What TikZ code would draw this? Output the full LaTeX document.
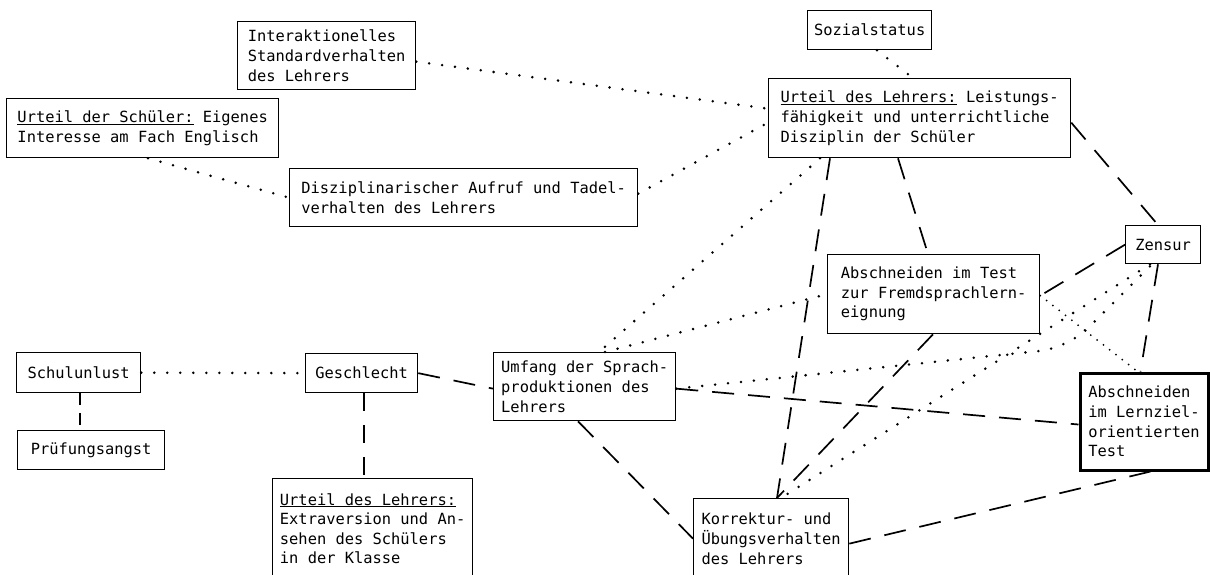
\documentclass[tikz,border=0pt]{standalone}
\usepackage{fontspec}
\newfontfamily\boxfont{DejaVu Sans Mono}
\usetikzlibrary{calc}
\begin{document}
\begin{tikzpicture}[x=1pt,y=-1pt,
  box/.style={draw, line width=1.3pt, anchor=north west, align=left, inner xsep=5pt, inner ysep=0pt,
    font={\boxfont\fontsize{15.4}{19.6}\selectfont}},
  dots/.style={line width=2.8pt, line cap=round, dash pattern=on 0pt off 13pt},
  finedots/.style={line width=2pt, line cap=round, dash pattern=on 0pt off 8pt},
  dashes/.style={line width=1.7pt, dash pattern=on 22pt off 14pt},
]
\fill[white] (0,0) rectangle (1210,574);
\useasboundingbox (0,0) rectangle (1210,574);

% nodes
\node[box, minimum width=178pt, minimum height=68pt] (inter) at (237,21)
  {Interaktionelles\\Standardverhalten\\des Lehrers};
\node[box, minimum width=272pt, minimum height=59pt] (schueler) at (6,98)
  {\underline{Urteil der Schüler:} Eigenes\\Interesse am Fach Englisch};
\node[box, minimum width=348pt, minimum height=58pt] (diszi) at (289,168)
  {Disziplinarischer Aufruf und Tadel-\\verhalten des Lehrers};
\node[box, minimum width=124pt, minimum height=39pt] (sozial) at (807,10)
  {Sozialstatus};
\node[box, minimum width=302pt, minimum height=79pt] (lehrer) at (768,78)
  {\underline{Urteil des Lehrers:} Leistungs-\\fähigkeit und unterrichtliche\\Disziplin der Schüler};
\node[box, minimum width=75pt, minimum height=38pt] (zensur) at (1125,225)
  {Zensur};
\node[box, minimum width=212pt, minimum height=79pt] (test) at (827,254)
  {Abschneiden im Test\\zur Fremdsprachlern-\\eignung};
\node[box, minimum width=124pt, minimum height=40pt] (unlust) at (16,352)
  {Schulunlust};
\node[box, minimum width=147pt, minimum height=39pt] (pruef) at (17,430)
  {Prüfungsangst};
\node[box, minimum width=112pt, minimum height=39pt] (geschl) at (305,353)
  {Geschlecht};
\node[box, minimum width=200pt, minimum height=100pt] (extra) at (272,478)
  {\underline{Urteil des Lehrers:}\\Extraversion und An-\\sehen des Schülers\\in der Klasse};
\node[box, minimum width=182pt, minimum height=68pt] (umfang) at (493,352)
  {Umfang der Sprach-\\produktionen des\\Lehrers};
\node[box, minimum width=155pt, minimum height=80pt] (korr) at (693,498)
  {Korrektur- und\\Übungsverhalten\\des Lehrers};
\node[box, line width=3pt, inner xsep=8pt, minimum width=128pt, minimum height=97pt] (lern) at (1078.5,371.5)
  {Abschneiden\\im Lernziel-\\orientierten\\Test};

% dotted connectors
\draw[dots] ([yshift=-6pt]inter.east) -- ([yshift=9.5pt]lehrer.west);
\draw[dots] ([yshift=4pt]diszi.east) -- ([yshift=-4.5pt]lehrer.west);
\draw[dots] ([xshift=142pt]schueler.south west) -- (diszi.west);
\draw[dots] ([xshift=70pt]sozial.south west) -- ([xshift=145pt]lehrer.north west);
\draw[dots] ([xshift=52pt]lehrer.south west) -- ([xshift=106pt]umfang.north west);
\draw[dots] ([xshift=112pt]umfang.north west) -- (test.west);
\draw[dots] (unlust.east) -- (geschl.west);
\draw[dots] ([xshift=25pt]zensur.south west) -- ([xshift=88pt]korr.north west);
\coordinate (bend) at (1068,348);
\draw[dots, rounded corners=28pt] ([yshift=-2pt]umfang.east) -- (bend) -- ([xshift=27pt]zensur.south west);
\draw[finedots] ([yshift=-1.5pt]test.east) -- ([xshift=59pt]lern.north west);

% dashed connectors
\draw[dashes] ([xshift=62pt]lehrer.south west) -- ([xshift=84pt]korr.north west);
\draw[dashes] ([xshift=130pt]lehrer.south west) -- ([xshift=101pt]test.north west);
\draw[dashes] ([yshift=-4.5pt]lehrer.east) -- ([xshift=33pt]zensur.north west);
\draw[dashes] (zensur.west) -- ([yshift=-1.5pt]test.east);
\draw[dashes] ([xshift=33pt]zensur.south west) -- ([xshift=62pt]lern.north west);
\draw[dashes] ([xshift=106pt]test.south west) -- ([xshift=84pt]korr.north west);
\draw[dashes] ([yshift=-2pt]umfang.east) -- ([yshift=-3pt]lern.west);
\draw[dashes] ([xshift=85pt]umfang.south west) -- (korr.west);
\draw[dashes] ([yshift=-5pt]korr.east) -- ([xshift=72pt]lern.south west);
\draw[dashes] (geschl.east) -- ([yshift=-2pt]umfang.west);
\draw[dashes, dash pattern=on 12pt off 8pt] ([xshift=64pt]unlust.south west) -- ([xshift=63pt]pruef.north west);
\draw[dashes, dash pattern=on 18pt off 14pt] ([xshift=59pt]geschl.south west) -- ([xshift=92pt]extra.north west);
\end{tikzpicture}
\end{document}
